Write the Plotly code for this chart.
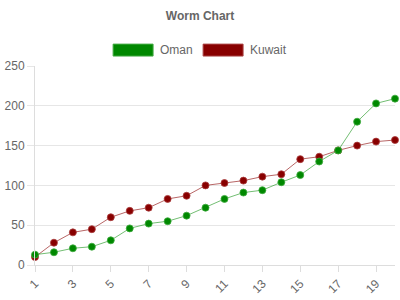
import plotly.graph_objects as go

categories = list(range(1, 21))
oman = [13, 16, 21, 23, 31, 46, 52, 55, 62, 72, 83, 91, 94, 104, 113, 130, 144, 180, 203, 209]
kuwait = [10, 28, 41, 45, 60, 68, 72, 83, 87, 100, 103, 106, 111, 114, 133, 136, 144, 150, 155, 157]
series_names = ["Oman", "Kuwait"]
tick_labels = [str(c) for c in categories if c % 2 == 1]

fill_colors = ["#008800", "#880000"]
line_colors = ["rgba(0,136,0,0.55)", "rgba(136,0,0,0.6)"]
edge_colors = ["rgba(60,170,60,0.8)", "rgba(170,60,60,0.8)"]

fig = go.Figure()
# draw Kuwait first so Oman sits on top, as in the reference
for name, vals, fc, lc, ec in list(zip(series_names, [oman, kuwait], fill_colors, line_colors, edge_colors))[::-1]:
    fig.add_trace(go.Scatter(
        x=categories, y=vals, name=name, mode="lines+markers",
        line=dict(color=lc, width=1),
        marker=dict(color=fc, size=7, line=dict(color=ec, width=1)),
        cliponaxis=False, showlegend=False,
    ))

# custom legend (wide boxes like the reference)
legend_items = [(series_names[0], 0.217, fill_colors[0], "#44aa44"), (series_names[1], 0.467, fill_colors[1], "#aa4444")]
for name, x0, fc, ec in legend_items:
    fig.add_shape(type="rect", xref="paper", yref="paper",
                  x0=x0, x1=x0 + 0.111, y0=1.050, y1=1.110,
                  fillcolor=fc, line=dict(color=ec, width=1))
    fig.add_annotation(xref="paper", yref="paper", x=x0 + 0.126, y=1.080,
                       text=name, showarrow=False, xanchor="left", yanchor="middle",
                       font=dict(size=12, color="#666666", family="Liberation Sans, Arial"))

fig.update_layout(
    width=400, height=300,
    margin=dict(l=35, r=5, t=66, b=35),
    paper_bgcolor="white", plot_bgcolor="white",
    title=dict(text="<b>Worm Chart</b>", x=0.5, xanchor="center", y=0.947, yanchor="middle",
               font=dict(size=12, color="#666666", family="Liberation Sans, Arial")),
    font=dict(family="Liberation Sans, Arial", size=12, color="#666666"),
    showlegend=False,
)
fig.update_xaxes(
    range=[1, 20], tickvals=[c for c in categories if c % 2 == 1], ticktext=tick_labels,
    tickangle=-45, showgrid=False, showline=True, linecolor="#dddddd", linewidth=1,
    ticks="outside", ticklen=6, tickcolor="#dddddd", zeroline=False,
    tickfont=dict(size=12, color="#666666"),
)
fig.update_yaxes(
    range=[0, 250], tickvals=[0, 50, 100, 150, 200, 250],
    showgrid=True, gridcolor="#e6e6e6", gridwidth=1, showline=True, linecolor="#dddddd",
    ticks="outside", ticklen=7, tickcolor="#e6e6e6", zeroline=False,
    tickfont=dict(size=12, color="#666666"),
)

fig.write_html("out.html")
